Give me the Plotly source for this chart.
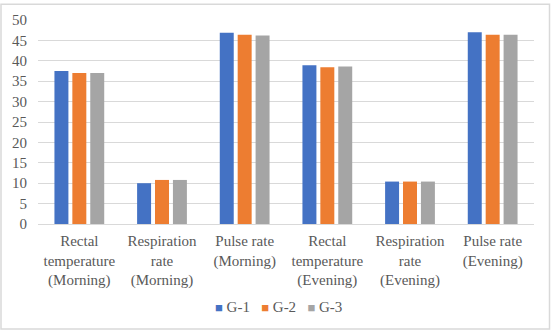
import plotly.graph_objects as go

categories = ["Rectal<br>temperature<br>(Morning)", "Respiration<br>rate<br>(Morning)",
              "Pulse rate<br>(Morning)", "Rectal<br>temperature<br>(Evening)",
              "Respiration<br>rate<br>(Evening)", "Pulse rate<br>(Evening)"]
series_names = ["G-1", "G-2", "G-3"]
g1 = [37.5, 10.0, 46.9, 38.9, 10.4, 47.0]
g2 = [37.0, 10.8, 46.4, 38.4, 10.4, 46.4]
g3 = [37.0, 10.8, 46.2, 38.6, 10.4, 46.4]
y_ticks = list(range(0, 51, 5))
colors = ["#4472C4", "#ED7D31", "#A5A5A5"]

W, H = 551, 332
L, R, T, B = 38, 17, 17, 108
pw, ph = W - L - R, H - T - B
FS = 15

fig = go.Figure()
for name, vals, col in zip(series_names, [g1, g2, g3], colors):
    fig.add_trace(go.Bar(x=categories, y=vals, name=name, marker_color=col,
                         marker_line_width=0, showlegend=False))

legend_text = "&nbsp;&nbsp;&nbsp;".join(
    f"<span style='color:{c};font-size:13px'>■</span>&nbsp;{n}" for n, c in zip(series_names, colors))

fig.update_layout(
    width=W, height=H,
    margin=dict(l=L, r=R, t=T, b=B),
    paper_bgcolor="white", plot_bgcolor="white",
    barmode="group", bargap=0.35, bargroupgap=0.22,
    font=dict(family="Liberation Serif", size=FS, color="#595959"),
    xaxis=dict(showgrid=False, showline=False, ticks="", tickfont=dict(size=FS), ticklabelstandoff=6),
    yaxis=dict(range=[0, 50], tickvals=y_ticks, showgrid=True, gridcolor="#D9D9D9", gridwidth=1,
               zeroline=True, zerolinecolor="#D9D9D9", zerolinewidth=1, ticks="",
               tickfont=dict(size=FS), ticklabelstandoff=10),
    annotations=[dict(text=legend_text, xref="paper", yref="paper",
                      x=(278.5 - L) / pw, y=(H - B - 308.5) / ph, xanchor="center", yanchor="middle",
                      showarrow=False, font=dict(size=FS, color="#595959"))],
    shapes=[dict(type="rect", xref="paper", yref="paper",
                 x0=(1 - L) / pw, x1=(549.5 - L) / pw,
                 y0=(H - B - 330.5) / ph, y1=(H - B - 1) / ph,
                 line=dict(color="#D9D9D9", width=1.5), fillcolor="rgba(0,0,0,0)", layer="below")],
)
fig.write_html("out.html")
